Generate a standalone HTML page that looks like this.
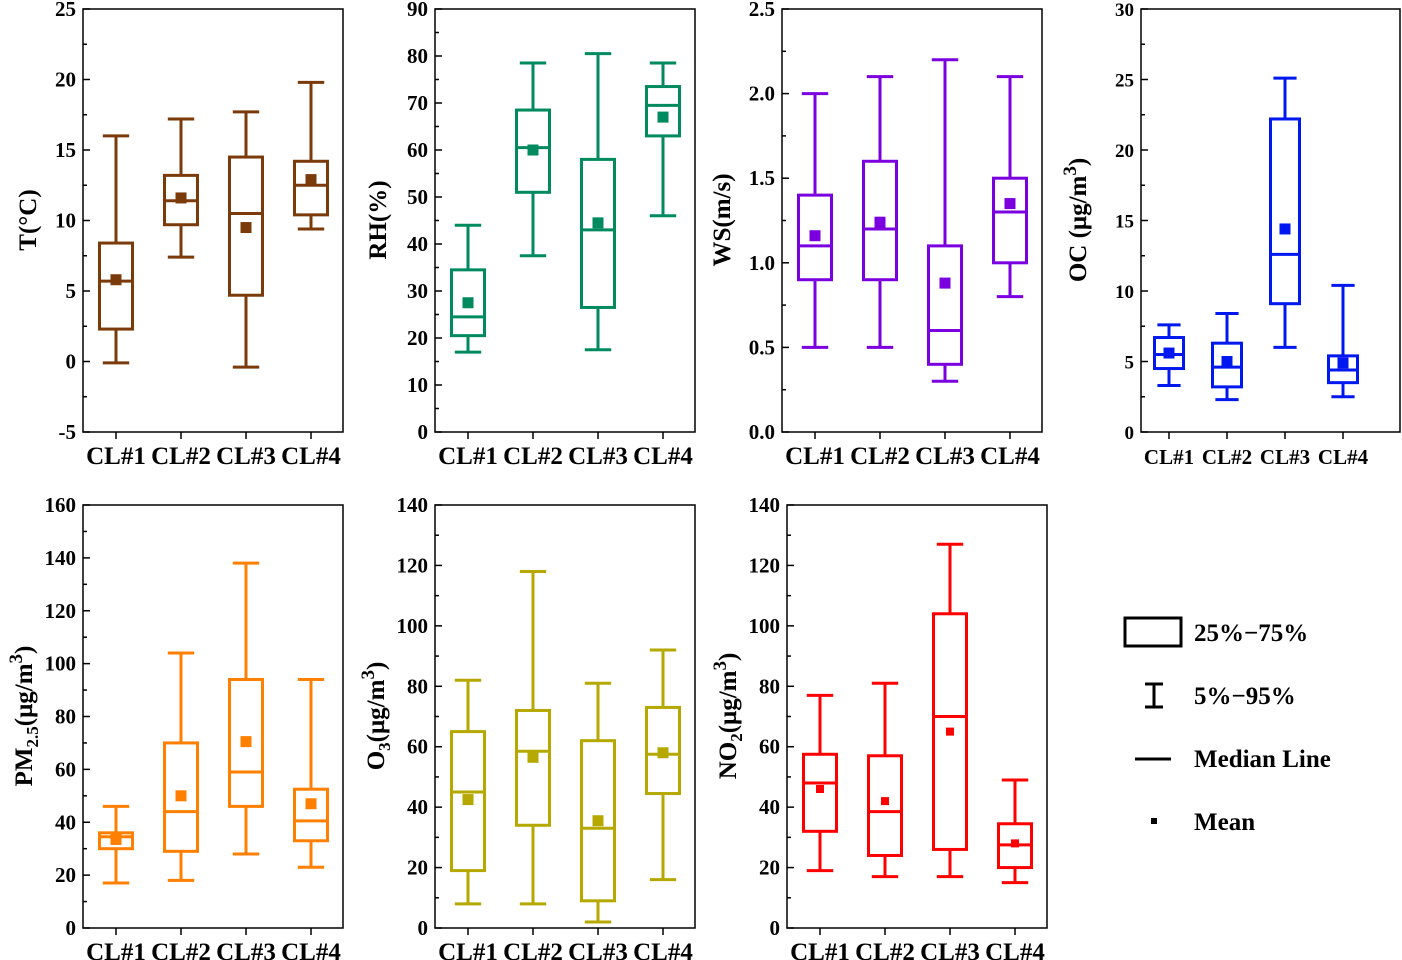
<!DOCTYPE html>
<html><head><meta charset="utf-8"><style>
html,body{margin:0;padding:0;background:#fff}
svg{display:block;font-family:"Liberation Serif",serif;font-weight:bold}
</style></head><body>
<svg id="c" width="1402" height="960" viewBox="0 0 1402 960">
<g fill="none" stroke="#000" stroke-width="3">
<rect x="1125" y="618" width="56" height="28"/>
<path d="M1154 684V707M1145 684H1163M1145 707H1163"/>
<path d="M1135 759H1171"/>
<rect x="1151" y="818" width="6" height="6" fill="#000" stroke="none"/>
<g fill="#000" stroke="none" font-size="25">
<text x="1194" y="641">25%−75%</text>
<text x="1194" y="704">5%−95%</text>
<text x="1194" y="767">Median Line</text>
<text x="1194" y="830">Mean</text>
</g></g>
</svg>
<script>
const categories=["CL#1","CL#2","CL#3","CL#4"];
const tP5=[-0.1,7.4,-0.4,9.4], tQ1=[2.3,9.7,4.7,10.4], tMed=[5.7,11.4,10.5,12.5], tQ3=[8.4,13.2,14.5,14.2], tP95=[16,17.2,17.7,19.8], tMean=[5.8,11.6,9.5,12.9];
const rhP5=[17,37.5,17.5,46], rhQ1=[20.5,51,26.5,63], rhMed=[24.5,60.5,43,69.5], rhQ3=[34.5,68.5,58,73.5], rhP95=[44,78.5,80.5,78.5], rhMean=[27.5,60,44.5,67];
const wsP5=[0.5,0.5,0.3,0.8], wsQ1=[0.9,0.9,0.4,1.0], wsMed=[1.1,1.2,0.6,1.3], wsQ3=[1.4,1.6,1.1,1.5], wsP95=[2.0,2.1,2.2,2.1], wsMean=[1.16,1.24,0.88,1.35];
const ocP5=[3.3,2.3,6,2.5], ocQ1=[4.5,3.2,9.1,3.5], ocMed=[5.5,4.6,12.6,4.4], ocQ3=[6.7,6.3,22.2,5.4], ocP95=[7.6,8.4,25.1,10.4], ocMean=[5.6,5.0,14.4,4.9];
const pmP5=[17,18,28,23], pmQ1=[30,29,46,33], pmMed=[34.5,44,59,40.5], pmQ3=[36,70,94,52.5], pmP95=[46,104,138,94], pmMean=[33.5,50,70.5,47];
const o3P5=[8,8,2,16], o3Q1=[19,34,9,44.5], o3Med=[45,58.5,33,57.5], o3Q3=[65,72,62,73], o3P95=[82,118,81,92], o3Mean=[42.5,56.5,35.5,58];
const no2P5=[19,17,17,15], no2Q1=[32,24,26,20], no2Med=[48,38.5,70,27.5], no2Q3=[57.5,57,104,34.5], no2P95=[77,81,127,49], no2Mean=[46,42,65,28];
const tTicks=["-5","0","5","10","15","20","25"];
const rhTicks=["0","10","20","30","40","50","60","70","80","90"];
const wsTicks=["0.0","0.5","1.0","1.5","2.0","2.5"];
const ocTicks=["0","5","10","15","20","25","30"];
const pmTicks=["0","20","40","60","80","100","120","140","160"];
const o3Ticks=["0","20","40","60","80","100","120","140"];
const no2Ticks=["0","20","40","60","80","100","120","140"];

const NS="http://www.w3.org/2000/svg";
const svg=document.getElementById('c');
function mk(tag,attrs,parent){const e=document.createElementNS(NS,tag);for(const k in attrs)e.setAttribute(k,attrs[k]);parent.appendChild(e);return e;}

const panels=[
 {id:"t",x0:83,x1:343,y0:9,y1:432,step:65,off:33,bw:33,ms:11,fs:21,xfs:25,ticks:tTicks,color:"#7B3A0A",d:[tP5,tQ1,tMed,tQ3,tP95,tMean],title:"T(°C)",tx:28,ty:220},
 {id:"rh",x0:435,x1:695,y0:9,y1:432,step:65,off:33,bw:33,ms:11,fs:21,xfs:25,ticks:rhTicks,color:"#008A5E",d:[rhP5,rhQ1,rhMed,rhQ3,rhP95,rhMean],title:"RH(%)",tx:378,ty:220},
 {id:"ws",x0:782,x1:1042,y0:9,y1:432,step:65,off:33,bw:33,ms:11,fs:21,xfs:25,ticks:wsTicks,color:"#7B00E0",d:[wsP5,wsQ1,wsMed,wsQ3,wsP95,wsMean],title:"WS(m/s)",tx:722,ty:220},
 {id:"oc",x0:1141,x1:1400,y0:9,y1:432,step:58,off:28,bw:29,ms:11,fs:19,xfs:21,ticks:ocTicks,color:"#0018F0",d:[ocP5,ocQ1,ocMed,ocQ3,ocP95,ocMean],title:"OC (μg/m",sup:"3",tail:")",tx:1078,ty:220},
 {id:"pm",x0:83,x1:343,y0:505,y1:928,step:65,off:33,bw:33,ms:11,fs:21,xfs:25,ticks:pmTicks,color:"#FF7F00",d:[pmP5,pmQ1,pmMed,pmQ3,pmP95,pmMean],title:"PM",sub:"2.5",mid:"(μg/m",sup:"3",tail:")",tx:24,ty:716},
 {id:"o3",x0:435,x1:695,y0:505,y1:928,step:65,off:33,bw:33,ms:11,fs:21,xfs:25,ticks:o3Ticks,color:"#B5A800",d:[o3P5,o3Q1,o3Med,o3Q3,o3P95,o3Mean],title:"O",sub:"3",mid:"(μg/m",sup:"3",tail:")",tx:376,ty:716},
 {id:"no2",x0:787,x1:1047,y0:505,y1:928,step:65,off:33,bw:33,ms:8,fs:21,xfs:25,ticks:no2Ticks,color:"#FF0000",d:[no2P5,no2Q1,no2Med,no2Q3,no2P95,no2Mean],title:"NO",sub:"2",mid:"(μg/m",sup:"3",tail:")",tx:728,ty:716}
];

panels.forEach(p=>{
 const g=mk('g',{},svg);
 
 
 const tmin=parseFloat(p.ticks[0]), tmax=parseFloat(p.ticks[p.ticks.length-1]);
 const y=v=>p.y1-(v-tmin)/(tmax-tmin)*(p.y1-p.y0);
 const x=i=>p.x0+p.off+i*p.step;
 const fr=mk('rect',{x:p.x0,y:p.y0,width:p.x1-p.x0,height:p.y1-p.y0,fill:"none",stroke:"#000","stroke-width":1.5},g);
 
 
 const n=p.ticks.length;
 p.ticks.forEach((t,k)=>{
  const yy=y(parseFloat(t));
  mk('line',{x1:p.x0,x2:p.x0+7,y1:yy,y2:yy,stroke:"#000","stroke-width":1.5},g);
  if(k<n-1){const ym=(yy+y(parseFloat(p.ticks[k+1])))/2;mk('line',{x1:p.x0,x2:p.x0+4,y1:ym,y2:ym,stroke:"#000","stroke-width":1.5},g);}
  const tl=mk('text',{x:p.x0-7,y:yy+7,"text-anchor":"end","font-size":p.fs},g);
  tl.textContent=t;
  
  
 });
 categories.forEach((c,i)=>{
  const cx=x(i);
  mk('line',{x1:cx,x2:cx,y1:p.y1,y2:p.y1+7,stroke:"#000","stroke-width":1.5},g);
  const xl=mk('text',{x:cx,y:p.y1+32,"text-anchor":"middle","font-size":p.xfs},g);
  xl.textContent=c;
  
  
  const [p5,q1,md,q3,p95,mn]=p.d.map(a=>a[i]);
  const bg=mk('g',{stroke:p.color,"stroke-width":3,fill:"none"},g);
  
  
  const cw=p.bw*0.4;
  mk('path',{d:`M${cx} ${y(p95)}V${y(q3)}M${cx} ${y(q1)}V${y(p5)}M${cx-cw} ${y(p95)}H${cx+cw}M${cx-cw} ${y(p5)}H${cx+cw}`},bg);
  mk('rect',{x:cx-p.bw/2,y:y(q3),width:p.bw,height:y(q1)-y(q3)},bg);
  mk('line',{x1:cx-p.bw/2,x2:cx+p.bw/2,y1:y(md),y2:y(md)},bg);
  mk('rect',{x:cx-p.ms/2,y:y(mn)-p.ms/2,width:p.ms,height:p.ms,fill:p.color,stroke:"none"},bg);
 });
 const tt=mk('text',{x:0,y:0,"text-anchor":"middle","font-size":25,transform:`translate(${p.tx+8},${p.ty}) rotate(-90)`},g);
 
 
 const s1=mk('tspan',{},tt); s1.textContent=p.title;
 if(p.sub){const s=mk('tspan',{dy:6,"font-size":17},tt);s.textContent=p.sub;const m=mk('tspan',{dy:-6},tt);m.textContent=p.mid;}
 if(p.sup){const s=mk('tspan',{dy:-10,"font-size":19},tt);s.textContent=p.sup;const t2=mk('tspan',{dy:10},tt);t2.textContent=p.tail;}
});
</script>
</body></html>
